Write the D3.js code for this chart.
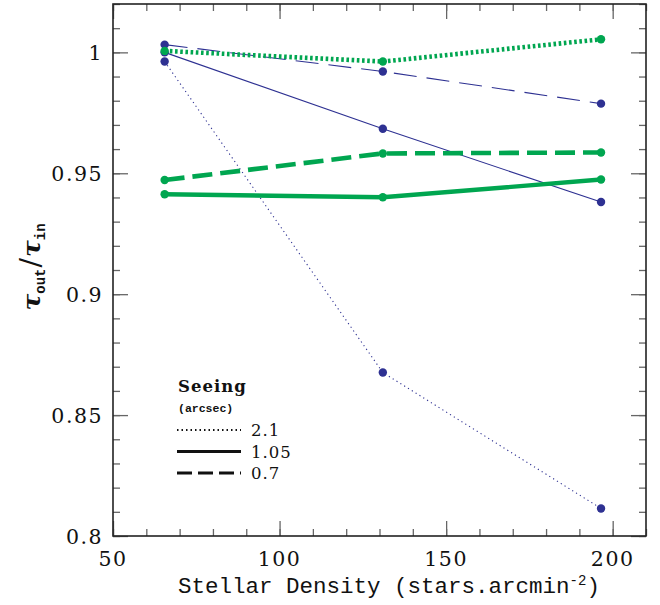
<!DOCTYPE html>
<html>
<head>
<meta charset="utf-8">
<script src="https://cdn.jsdelivr.net/npm/d3@7"></script>
<style>
  body { margin: 0; background: #fff; }
  svg { display: block; }
</style>
</head>
<body>
<svg id="chart" width="660" height="605"></svg>
<script>
// ---- data ----
const densities = [65.5, 131, 196.5];
const seeingLabels = ["2.1", "1.05", "0.7"];
const blue_2_1  = [0.9962, 0.8676, 0.8114];
const blue_1_05 = [1.0000, 0.9684, 0.9381];
const blue_0_7  = [1.0032, 0.9921, 0.9788];
const green_2_1  = [1.0006, 0.9962, 1.0054];
const green_1_05 = [0.9413, 0.9401, 0.9474];
const green_0_7  = [0.9472, 0.9582, 0.9586];
const xTicks = [50, 100, 150, 200];
const yTicks = [0.8, 0.85, 0.9, 0.95, 1];
const yTickLabels = ["0.8", "0.85", "0.9", "0.95", "1"];

// ---- layout ----
const svg = d3.select("#chart");
const L = 113, R = 646, T = 4, B = 536;
const x = d3.scaleLinear().domain([50, 210]).range([L, R]);
const y = d3.scaleLinear().domain([0.8, 1.02]).range([B, T]);

const BLUE = "#2e3192", GREEN = "#00a650";

const series = [
  { vals: blue_2_1, color: BLUE, w: 1.1, dash: "1.2,3.3" },
  { vals: blue_1_05, color: BLUE, w: 1.1, dash: null },
  { vals: blue_0_7, color: BLUE, w: 1.1, dash: "23,10" },
  { vals: green_1_05, color: GREEN, w: 4.4, dash: null },
  { vals: green_0_7, color: GREEN, w: 4.6, dash: "20,8" },
  { vals: green_2_1, color: GREEN, w: 4.6, dash: "2.6,2.6" }
];

const line = d3.line().x((d, i) => x(densities[i])).y(d => y(d));

series.forEach(s => {
  svg.append("path")
    .attr("d", line(s.vals))
    .attr("fill", "none")
    .attr("stroke", s.color)
    .attr("stroke-width", s.w)
    .attr("stroke-dasharray", s.dash);
});
series.forEach(s => {
  svg.selectAll(null).data(s.vals).enter().append("circle")
    .attr("cx", (d, i) => x(densities[i]))
    .attr("cy", d => y(d))
    .attr("r", 4.2)
    .attr("fill", s.color);
});

// ---- axes (ticks pointing inward) ----
const axisColor = "#222";
const tickColor = "#666";
function addTicks(g) {
  g.selectAll(".tick line").attr("stroke", tickColor).attr("stroke-width", 1.3);
  g.select(".domain").remove();
}
const yMinor = d3.range(0.8, 1.0201, 0.01).map(v => +v.toFixed(2));
const xMinor = d3.range(50, 211, 10);

function axisPair(gen, pos, vals) {
  const g1 = svg.append("g").attr("transform", pos)
    .call(gen.tickValues(vals.minor).tickSize(7).tickFormat(""));
  addTicks(g1);
}
// left
addTicks(svg.append("g").attr("transform", `translate(${L},0)`)
  .call(d3.axisRight(y).tickValues(yMinor).tickSize(7).tickFormat("")));
addTicks(svg.append("g").attr("transform", `translate(${L},0)`)
  .call(d3.axisRight(y).tickValues(yTicks).tickSize(15).tickFormat("")));
// right
addTicks(svg.append("g").attr("transform", `translate(${R},0)`)
  .call(d3.axisLeft(y).tickValues(yMinor).tickSize(7).tickFormat("")));
addTicks(svg.append("g").attr("transform", `translate(${R},0)`)
  .call(d3.axisLeft(y).tickValues(yTicks).tickSize(15).tickFormat("")));
// bottom
addTicks(svg.append("g").attr("transform", `translate(0,${B})`)
  .call(d3.axisTop(x).tickValues(xMinor).tickSize(7).tickFormat("")));
addTicks(svg.append("g").attr("transform", `translate(0,${B})`)
  .call(d3.axisTop(x).tickValues(xTicks).tickSize(15).tickFormat("")));
// top
addTicks(svg.append("g").attr("transform", `translate(0,${T})`)
  .call(d3.axisBottom(x).tickValues(xMinor).tickSize(7).tickFormat("")));
addTicks(svg.append("g").attr("transform", `translate(0,${T})`)
  .call(d3.axisBottom(x).tickValues(xTicks).tickSize(15).tickFormat("")));

// frame
svg.append("rect").attr("x", L).attr("y", T).attr("width", R - L).attr("height", B - T)
  .attr("fill", "none").attr("stroke", axisColor).attr("stroke-width", 1.6);

// tick labels
const numFont = "'DejaVu Serif', serif";
svg.append("g").selectAll("text").data(yTicks).enter().append("text")
  .attr("x", 103).attr("y", d => y(d) + 7.5)
  .attr("text-anchor", "end")
  .attr("font-family", numFont).attr("font-size", 20.5)
  .attr("letter-spacing", 1.5)
  .attr("fill", "#111")
  .text((d, i) => yTickLabels[i]);
svg.append("g").selectAll("text").data(xTicks).enter().append("text")
  .attr("x", d => x(d)).attr("y", 566)
  .attr("text-anchor", "middle")
  .attr("font-family", numFont).attr("font-size", 20.5)
  .attr("letter-spacing", 1.5)
  .attr("fill", "#111")
  .text(d => d);

// x title
const xt = svg.append("text")
  .attr("x", 178).attr("y", 593)
  .attr("font-family", "'Liberation Mono', monospace").attr("font-size", 22.5)
  .attr("fill", "#111");
xt.append("tspan").text("Stellar Density (stars.arcmin");
xt.append("tspan").attr("dy", -8).attr("font-size", 14).text("-2");
xt.append("tspan").attr("dy", 8).text(")");

// y title
const yt = svg.append("text")
  .attr("transform", "translate(40,267) rotate(-90)")
  .attr("text-anchor", "middle")
  .attr("fill", "#111");
yt.append("tspan").attr("font-family", "'DejaVu Serif', serif").attr("font-weight", "bold").attr("font-style", "italic").attr("font-size", 25).text("τ");
yt.append("tspan").attr("font-family", "'Liberation Mono', monospace").attr("font-weight", "bold").attr("font-size", 14).attr("dy", 5).text("out");
yt.append("tspan").attr("font-family", "'DejaVu Serif', serif").attr("font-size", 28).attr("dy", -5).attr("dx", 1).text("/");
yt.append("tspan").attr("font-family", "'DejaVu Serif', serif").attr("font-weight", "bold").attr("font-style", "italic").attr("font-size", 25).attr("dx", 1).text("τ");
yt.append("tspan").attr("font-family", "'Liberation Mono', monospace").attr("font-weight", "bold").attr("font-size", 14).attr("dy", 5).text("in");

// legend
svg.append("text").attr("x", 178).attr("y", 392)
  .attr("font-family", "'DejaVu Serif', serif").attr("font-weight", "bold")
  .attr("font-size", 16.5).attr("letter-spacing", 1).attr("fill", "#111").text("Seeing");
svg.append("text").attr("x", 178).attr("y", 412)
  .attr("font-family", "'Liberation Mono', monospace").attr("font-weight", "bold")
  .attr("font-size", 11.5).attr("fill", "#111").text("(arcsec)");
const legDash = { "2.1": "1.5,3", "1.05": null, "0.7": "15,6" };
const legW = { "2.1": 2.2, "1.05": 3.2, "0.7": 3.2 };
const legY = d3.scalePoint().domain(seeingLabels).range([430, 473]);
seeingLabels.forEach(lab => {
  svg.append("line")
    .attr("x1", 177).attr("x2", 241)
    .attr("y1", legY(lab)).attr("y2", legY(lab))
    .attr("stroke", "#111").attr("stroke-width", legW[lab])
    .attr("stroke-dasharray", legDash[lab]);
  svg.append("text").attr("x", 251).attr("y", legY(lab) + 6)
    .attr("font-family", numFont).attr("font-size", 16.5)
    .attr("letter-spacing", 1).attr("fill", "#111").text(lab);
});
</script>
</body>
</html>
